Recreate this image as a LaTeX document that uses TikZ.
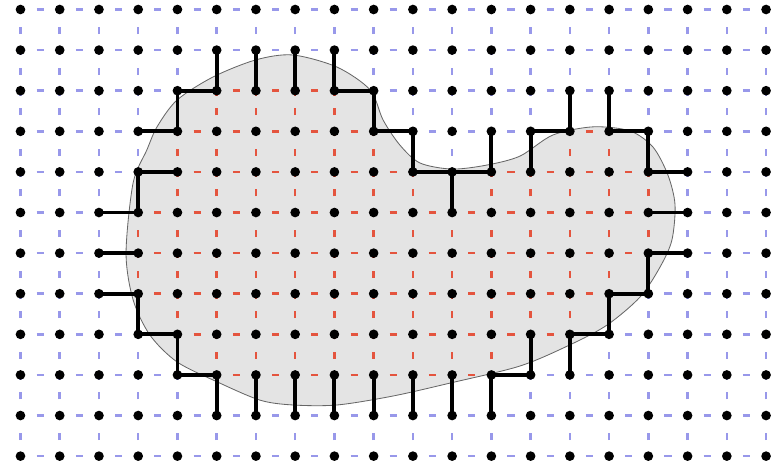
\documentclass[tikz,border=0pt]{standalone}
\usetikzlibrary{positioning}
\definecolor{GridBlue}{RGB}{152,152,234}
\definecolor{GridRed}{RGB}{228,84,62}
\definecolor{RegionGray}{RGB}{228,228,228}

\begin{document}
\begin{tikzpicture}[x=1cm, y=1.0347cm,
    outlink/.style={GridBlue, line width=1.8pt, dash pattern=on 0.18cm off 0.32cm, dash phase=0.09cm},
    inlink/.style={GridRed, line width=1.8pt, dash pattern=on 0.18cm off 0.32cm, dash phase=0.09cm},
    cutlink/.style={black, line width=2.8pt},
    link0/.style=outlink, link1/.style=cutlink, link2/.style=inlink,
    gridpt/.style={circle, fill=black, inner sep=0pt, minimum size=7pt},
    region/.style={fill=RegionGray, draw=black!60, line width=0.6pt},
    declare function={
      inr(\i,\a,\b)=(\i>\a-0.5)*(\i<\b+0.5);
      ins(\i,\j)=(\j==9)*inr(\i,5,8) + (\j==8)*(inr(\i,4,9)+inr(\i,14,15))
        + (\j==7)*(inr(\i,4,10)+inr(\i,12,16)) + (\j==6)*inr(\i,3,16)
        + (\j==5)*inr(\i,3,16) + (\j==4)*inr(\i,3,15) + (\j==3)*inr(\i,4,14)
        + (\j==2)*inr(\i,5,12);
    }]
  \useasboundingbox (-0.522,-0.219) rectangle (19.406,11.234);

  \draw[region] plot[smooth cycle] coordinates {
    (6.94,9.88) (8.07,9.58) (8.91,9.02) (9.24,8.28) (9.67,7.66) (10.18,7.22)
    (11.00,7.07) (11.89,7.17) (12.73,7.39) (13.57,7.91) (14.59,8.11) (15.53,8.01)
    (16.12,7.61) (16.50,6.92) (16.68,6.19) (16.60,5.32) (16.30,4.66) (15.79,3.92)
    (14.95,3.23) (14.00,2.74) (12.73,2.22) (10.95,1.80) (9.49,1.48) (8.07,1.26)
    (6.94,1.26) (6.10,1.38) (5.01,1.83) (3.99,2.32) (3.30,2.98) (2.87,3.85)
    (2.69,5.00) (2.87,6.73) (3.22,7.54) (3.48,8.11) (3.99,8.77) (4.91,9.34) (6.00,9.76)};

  \foreach \gx in {0,...,19} {
    \foreach \gy in {0,...,11} {
      \coordinate (p-\gx-\gy) at (\gx,\gy);
    }
  }

  \foreach \gx in {0,...,18} {
    \foreach \gy in {0,...,11} {
      \pgfmathtruncatemacro\nx{\gx+1}
      \pgfmathtruncatemacro\s{ins(\gx,\gy)+ins(\gx+1,\gy)}
      \draw[link\s] (p-\gx-\gy) -- (p-\nx-\gy);
    }
  }
  \foreach \gx in {0,...,19} {
    \foreach \gy in {0,...,10} {
      \pgfmathtruncatemacro\ny{\gy+1}
      \pgfmathtruncatemacro\s{ins(\gx,\gy)+ins(\gx,\gy+1)}
      \draw[link\s] (p-\gx-\gy) -- (p-\gx-\ny);
    }
  }

  \foreach \gx in {0,...,19} {
    \foreach \gy in {0,...,11} {
      \node[gridpt] (v-\gx-\gy) at (p-\gx-\gy) {};
    }
  }
\end{tikzpicture}
\end{document}
